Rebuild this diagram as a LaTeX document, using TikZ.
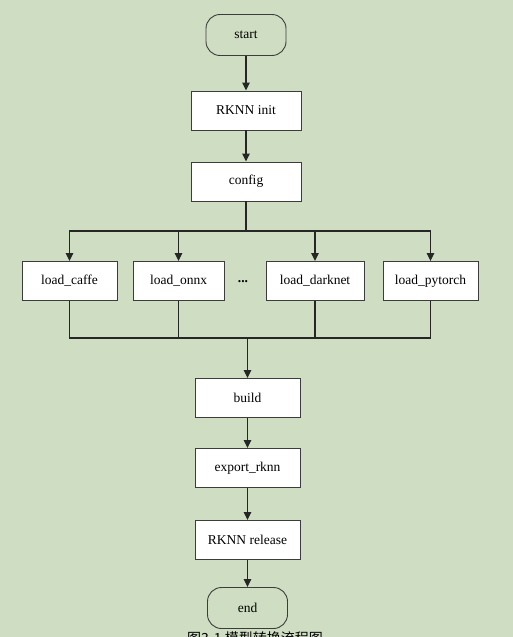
\documentclass[tikz,border=0pt]{standalone}
\usepackage{fontspec}
\setmainfont{Liberation Serif}
\newfontfamily\cjk{Noto Sans CJK SC}
\usetikzlibrary{arrows.meta}
\definecolor{bgc}{RGB}{207,222,194}
\definecolor{edgec}{RGB}{60,60,60}
\begin{document}
\begin{tikzpicture}[x=1pt,y=-1pt,
  box/.style={draw=edgec,fill=white,line width=0.9pt,minimum width=#1,minimum height=39pt,inner sep=0pt,font=\fontsize{13.5}{15}\selectfont},
  box/.default=110pt,
  term/.style={draw=edgec,fill=bgc,line width=0.9pt,rounded corners=14pt,minimum width=80pt,minimum height=41pt,inner sep=0pt,font=\fontsize{13.5}{15}\selectfont},
  conn/.style={line width=1.2pt,black!85},
  arr/.style={conn,-{Triangle[length=8pt,width=7.5pt]}}]
\fill[bgc] (0,0) rectangle (513,637);
\clip (0,0) rectangle (513,637);
\useasboundingbox (0,0) rectangle (513,637);
\node[term] (start) at (246,35) {start};
\node[box] (init) at (246,110.5) {RKNN init};
\node[box] (config) at (246,181.5) {config};
\node[box=95pt] (caffe) at (69.5,281) {load\_caffe};
\node[box=91pt] (onnx) at (178.5,281) {load\_onnx};
\node[font=\bfseries\fontsize{13.5}{15}\selectfont] (dots) at (243,282) {...};
\node[box=98pt] (darknet) at (315,281) {load\_darknet};
\node[box=95pt] (pytorch) at (430.5,281) {load\_pytorch};
\node[box=105pt] (build) at (247.5,398) {build};
\node[box=105pt] (export) at (247.5,468) {export\_rknn};
\node[box=105pt] (release) at (247.5,540) {RKNN release};
\node[term] (end) at (247.5,608) {end};
\node[font=\cjk\fontsize{14}{16}\selectfont,anchor=base] (cap) at (255,643.5) {图3-1 模型转换流程图};
\coordinate (tb) at (246,231);
\coordinate (bb) at (247.5,338);
\draw[arr] (start) -- (init);
\draw[arr] (init) -- (config);
\draw[conn] (config) -- (tb);
\draw[arr] (tb) -| (caffe);
\draw[arr] (tb) -| (onnx);
\draw[arr] (tb) -| (darknet);
\draw[arr] (tb) -| (pytorch);
\draw[conn] (caffe) |- (bb);
\draw[conn] (onnx) |- (bb);
\draw[conn] (darknet) |- (bb);
\draw[conn] (pytorch) |- (bb);
\draw[arr] (bb) -- (build);
\draw[arr] (build) -- (export);
\draw[arr] (export) -- (release);
\draw[arr] (release) -- (end);
\end{tikzpicture}
\end{document}
